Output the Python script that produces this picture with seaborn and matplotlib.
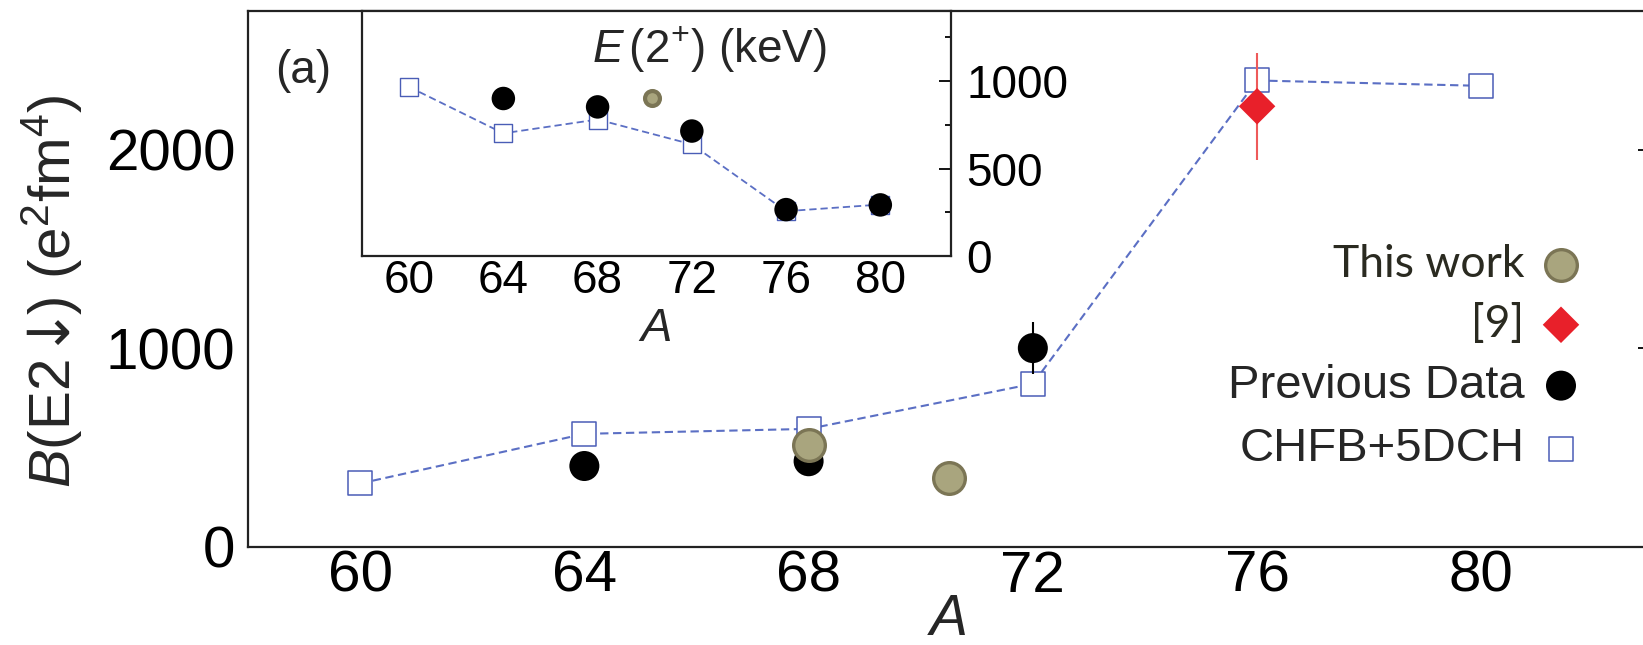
import matplotlib
matplotlib.use('Agg')
import matplotlib.pyplot as plt
from matplotlib.ticker import MultipleLocator
import seaborn as sns
import pandas as pd

# ---------------- data ----------------
# main panel: B(E2) in e^2 fm^4
A_calc = [60, 64, 68, 72, 76, 80]
BE2_calc = [320, 570, 595, 822, 2350, 2323]
A_prev = [64, 68, 72]
BE2_prev = [408, 432, 1002]
BE2_prev_err = [0, 0, 130]
A_this = [68, 70.5]
BE2_this = [513, 347]
A_ref9 = [76]
BE2_ref9 = [2220]
BE2_ref9_err = [270]

# inset: E(2+) in keV
A_calc_in = [60, 64, 68, 72, 76, 80]
E2_calc_in = [966, 701, 780, 638, 256, 294]
A_prev_in = [64, 68, 72, 76, 80]
E2_prev_in = [900, 852, 714, 265, 292]
A_this_in = [70.3]
E2_this_in = [903]

x_ticks = [60, 64, 68, 72, 76, 80]
y_ticks_main = [0, 1000, 2000]
y_ticks_inset = [0, 500, 1000]
legend_labels = ['This work', '[9]', 'Previous Data', 'CHFB+5DCH']

# ---------------- style ----------------
sns.set_style('white')
plt.rcParams['font.family'] = ['Liberation Sans', 'DejaVu Sans']
plt.rcParams['mathtext.fontset'] = 'custom'
plt.rcParams['mathtext.rm'] = 'Liberation Sans'
plt.rcParams['mathtext.it'] = 'Liberation Sans:italic'
plt.rcParams['mathtext.bf'] = 'Liberation Sans:bold'
plt.rcParams['mathtext.sf'] = 'DejaVu Sans'

SQ_BLUE = '#4A5DB6'
LINE_BLUE = '#5B6FC4'
RED = '#E8202A'
RED_ERR = '#EE5A5A'
OLIVE_FACE = '#A9A57E'
OLIVE_EDGE = '#7B7555'
TXT_DARK = '#2A2A20'

W, H = 1643, 645
fig = plt.figure(figsize=(W / 100, H / 100), dpi=100)
fig.patch.set_facecolor('white')

# ---------------- main axes ----------------
ax = fig.add_axes([248 / W, 98 / H, 1401.5 / W, 536 / H])
df_calc = pd.DataFrame({'A': A_calc, 'B': BE2_calc})
sns.lineplot(data=df_calc, x='A', y='B', ax=ax, color=LINE_BLUE, lw=1.5,
             sort=False, zorder=2)
ax.lines[-1].set_dashes((4, 2.2))
h_calc = sns.scatterplot(x=A_calc, y=BE2_calc, ax=ax, marker='s', s=311,
                         color='white', edgecolor=SQ_BLUE, linewidth=1.1,
                         zorder=3, legend=False).collections[-1]
ax.errorbar(A_prev, BE2_prev, yerr=BE2_prev_err, fmt='none', ecolor='black',
            elinewidth=1.5, capsize=0, zorder=3.5)
h_prev = sns.scatterplot(x=A_prev, y=BE2_prev, ax=ax, marker='o', s=467,
                         color='black', edgecolor='none', linewidth=0,
                         zorder=4, legend=False).collections[-1]
h_this = sns.scatterplot(x=A_this, y=BE2_this, ax=ax, marker='o', s=520,
                         color=OLIVE_FACE, edgecolor=OLIVE_EDGE, linewidth=2.4,
                         zorder=5, legend=False).collections[-1]
ax.errorbar(A_ref9, BE2_ref9, yerr=BE2_ref9_err, fmt='none', ecolor=RED_ERR,
            elinewidth=1.5, capsize=0, zorder=5.5)
h_ref9 = sns.scatterplot(x=A_ref9, y=BE2_ref9, ax=ax, marker='D', s=346,
                         color=RED, edgecolor='none', linewidth=0,
                         zorder=6, legend=False).collections[-1]

ax.set_xlim(58, 83)
ax.set_ylim(0, 2700)
ax.set_xticks(x_ticks)
ax.set_yticks(y_ticks_main)
ax.yaxis.set_minor_locator(MultipleLocator(500))
ax.tick_params(axis='both', which='both', direction='in', right=True, top=False,
               width=1.3, colors='black')
ax.tick_params(which='major', length=8.6, labelsize=42)
ax.tick_params(which='minor', length=5)
ax.tick_params(axis='x', which='minor', bottom=False)
ax.tick_params(axis='x', which='major', pad=2)
ax.tick_params(axis='y', which='major', pad=9)
for sp in ax.spines.values():
    sp.set_linewidth(1.6)
    sp.set_color('#222222')

ax.set_xlabel('A', fontsize=41, fontstyle='italic', labelpad=-8)
ax.set_ylabel('$B$(E2$\\!\\mathsf{\\downarrow}\\!\\!$) (e$^2$fm$^4$)', fontsize=42)
ax.yaxis.set_label_coords(-0.140, 0.478)
ax.yaxis.label.set_va('center')

ax.text(0.019, 0.888, '(a)', transform=ax.transAxes, fontsize=33,
        ha='left', va='center')

leg = ax.legend(handles=[h_this, h_ref9, h_prev, h_calc], labels=legend_labels,
                loc='upper right', bbox_to_anchor=(0.9537, 0.565),
                frameon=False, markerfirst=False, fontsize=34,
                handlelength=1.0, handletextpad=0.28, labelspacing=0.40,
                borderpad=0, borderaxespad=0, scatterpoints=1)
for t in leg.get_texts()[:2]:
    t.set_fontfamily(['Lato', 'DejaVu Sans'])
    t.set_fontsize(32)
    t.set_color(TXT_DARK)

# ---------------- inset ----------------
axi = fig.add_axes([362 / W, (H - 256) / H, 589 / W, 245 / H])
axi.set_facecolor('white')
df_calc_in = pd.DataFrame({'A': A_calc_in, 'E': E2_calc_in})
sns.lineplot(data=df_calc_in, x='A', y='E', ax=axi, color=LINE_BLUE, lw=1.3,
             sort=False, zorder=2)
axi.lines[-1].set_dashes((4, 2.2))
sns.scatterplot(x=A_calc_in, y=E2_calc_in, ax=axi, marker='s', s=187,
                color='white', edgecolor=SQ_BLUE, linewidth=1.0, zorder=3,
                legend=False)
sns.scatterplot(x=A_prev_in, y=E2_prev_in, ax=axi, marker='o', s=286,
                color='black', edgecolor='none', linewidth=0, zorder=4,
                legend=False)
sns.scatterplot(x=A_this_in, y=E2_this_in, ax=axi, marker='o', s=115,
                color=OLIVE_FACE, edgecolor=OLIVE_EDGE, linewidth=3,
                zorder=5, legend=False)
axi.set_xlim(58, 83)
axi.set_ylim(0, 1400)
axi.set_xticks(x_ticks)
axi.set_yticks(y_ticks_inset)
axi.yaxis.set_minor_locator(MultipleLocator(250))
axi.yaxis.tick_right()
axi.tick_params(axis='both', which='both', direction='in', width=1.3,
                top=False, left=False, right=True, colors='black')
axi.tick_params(which='major', length=8.6, labelsize=33)
axi.tick_params(which='minor', length=4.5)
axi.tick_params(axis='x', which='minor', bottom=False)
axi.tick_params(axis='x', which='major', pad=2)
axi.tick_params(axis='y', which='major', pad=11)
for sp in axi.spines.values():
    sp.set_linewidth(1.6)
    sp.set_color('#222222')
axi.set_xlabel('A', fontsize=34, fontstyle='italic', labelpad=3)
axi.set_ylabel('')
axi.text(0.59, 0.84, '$E\\,$(2$^{+}$) (keV)', transform=axi.transAxes,
         fontsize=33, ha='center', va='center')

fig.savefig('out.png', dpi=100)
